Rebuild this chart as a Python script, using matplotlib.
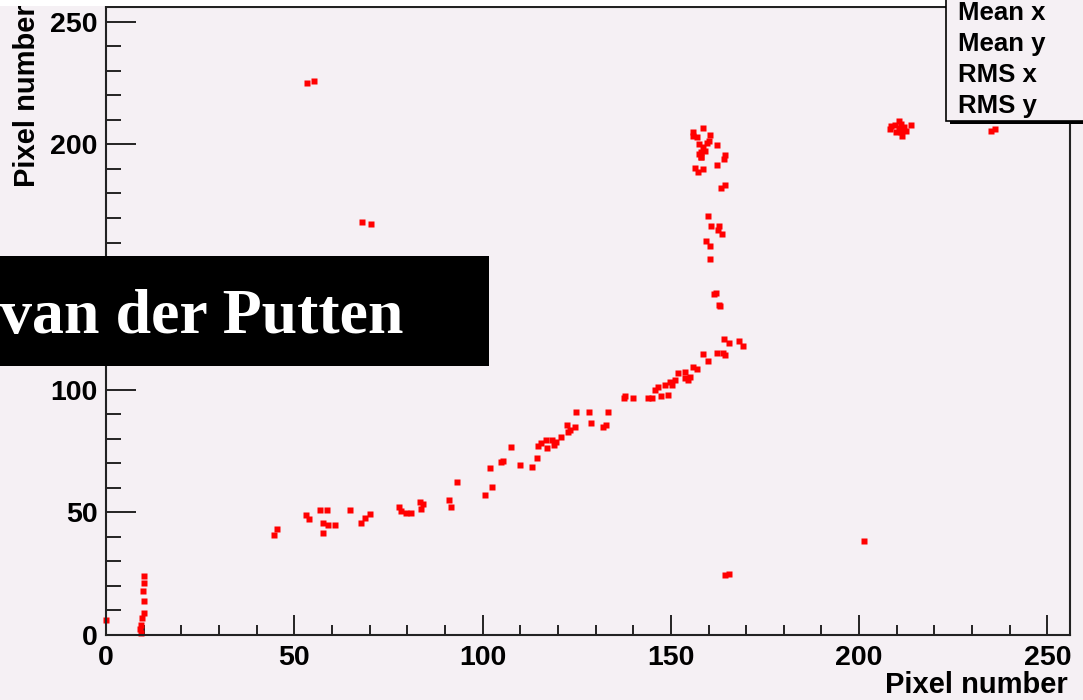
import matplotlib
matplotlib.use("Agg")
import matplotlib.pyplot as plt
from matplotlib.patches import Rectangle

# hit positions (pixel number x, pixel number y)
x_hits = [0,
          10, 10.2, 9.8, 10, 10, 9.6, 9.2, 9, 9.3,
          44.6, 45.5, 53.2, 53.9, 56.9, 58.6, 57.5, 59, 60.8, 57.5, 64.8, 67.6, 68.8, 70.1,
          77.8, 78.4, 79.8, 81, 83.3, 84.2, 83.7, 91, 91.5, 93.3, 100.7, 102.5,
          102.1, 105, 105.5, 107.6, 109.9, 113.1, 114.5, 114.6, 115.6, 117.2, 116.8, 118.5,
          119.6, 120.9, 119, 122.3, 122.7, 124.5, 123.3, 124.7, 128.3, 133.3, 128.7, 132, 132.9,
          137.6, 137.9, 140, 143.9, 145, 145.7, 146.6, 147.5, 148.4, 149.2, 149.7, 151, 150.3,
          151.9, 153.7, 153.7, 155, 155.9, 156.9, 154.5, 158.5, 159.9, 162.2, 163.8, 164.5,
          164.1, 165.4, 168.1, 169.2,
          161.9, 161.4, 163, 162.7,
          159.9, 160.6, 162.7, 162.5, 163.6, 159.4, 160.5, 160.4,
          163.4, 164.5,
          155.9, 155.9, 156.9, 158.5, 160.5, 162.2, 164.5, 164, 157.5, 158.5, 159.5, 158, 159,
          158, 157.5, 160, 158.1, 162.2, 156.3, 157.2, 158.5,
          53.3, 55.2, 68, 70.3,
          208.1, 208.5, 209.4, 210.7, 211.2, 211.2, 211.4, 212.5, 213.8, 209.7, 212, 210.5,
          235, 236,
          164.3, 165.4, 201.4]
y_hits = [6,
          24, 21, 18, 14, 9, 7, 4, 2.5, 1,
          40.6, 43.3, 49, 47.3, 51, 51, 45.8, 45, 44.8, 41.5, 51, 45.5, 47.6, 49.5,
          52.3, 50.5, 49.6, 49.6, 54.3, 53.5, 51.5, 55, 52.3, 62.5, 57.1, 60.5,
          67.9, 70.4, 71, 76.8, 69.3, 68.6, 72, 77, 78.1, 76.1, 79.5, 79.5,
          78.8, 80.8, 77.5, 85.6, 82.9, 84.6, 83.6, 91, 91, 91, 86.3, 84.9, 85.6,
          96.5, 97.6, 96.5, 96.5, 96.5, 99.9, 101.2, 97.4, 101.9, 97.8, 103.3, 104, 102,
          106.7, 107.3, 104.6, 105.3, 109.4, 108.3, 104, 114.6, 111.7, 115.1, 114.8, 114.1,
          120.7, 119.2, 119.9, 117.8,
          139.3, 138.9, 134.1, 134.6,
          171, 166.9, 166.9, 165.1, 163.5, 160.7, 158.7, 153.3,
          182.1, 183.4,
          205.2, 203.4, 203.1, 206.5, 203.8, 199.8, 195.7, 193.9, 200, 199, 200.5, 197, 197.5,
          195, 196, 201.5, 195, 191.6, 190.2, 188.9, 189.9,
          225.2, 226, 168.4, 167.7,
          206.2, 207.3, 208, 209.7, 208.3, 205.2, 203.4, 205.6, 208, 205.2, 207, 206.5,
          205.5, 206.3,
          24.5, 25, 38.4]

stat_names = ["Mean x", "Mean y", "RMS x", "RMS y"]
axis_title = "Pixel number"
banner = "van der Putten"

bg = "#f5f0f4"
W, H = 1083, 700

plt.rcParams['font.family'] = ['Liberation Sans', 'DejaVu Sans']
plt.rcParams['font.weight'] = 'bold'

fig = plt.figure(figsize=(W / 100, H / 100), dpi=100, facecolor=bg)
ax = fig.add_axes([106 / W, 1 - 635 / H, (1070 - 106) / W, (635 - 7) / H])
ax.set_facecolor(bg)

ax.plot(x_hits, y_hits, 's', color='#ff0000', ms=4.0, mec='none', clip_on=False)

ax.set_xlim(0, 256)
ax.set_ylim(0, 256)
ax.set_xticks(range(0, 251, 50))
ax.set_yticks(range(0, 251, 50))
ax.set_xticks(range(0, 256, 10), minor=True)
ax.set_yticks(range(0, 256, 10), minor=True)
ax.tick_params(axis='x', which='major', direction='in', length=14.5, width=1.2, pad=7, labelsize=20.5)
ax.tick_params(axis='x', which='minor', direction='in', length=7.2, width=1.2)
ax.tick_params(axis='y', which='major', direction='in', length=21.5, width=1.2, pad=6, labelsize=20.5)
ax.tick_params(axis='y', which='minor', direction='in', length=10.8, width=1.2)
for lab in ax.get_xticklabels() + ax.get_yticklabels():
    lab.set_fontweight('bold')
for s in ax.spines.values():
    s.set_linewidth(1.5)
    s.set_color('#222222')

fig.text(1068 / W, 1 - 693 / H, axis_title, ha='right', va='baseline', fontsize=21, fontweight='bold')
fig.text(13 / W, 1 - 4 / H, axis_title, rotation=90, ha='right', va='top', fontsize=21,
         fontweight='bold', rotation_mode='anchor')

# white strip along the top edge
fig.patches.append(Rectangle((0, 1 - 6 / H), 980 / W, 6 / H, transform=fig.transFigure,
                             facecolor='white', edgecolor='none', zorder=5))

# stats box with shadow
fig.patches.append(Rectangle((950 / W, 1 - 124 / H), 140 / W, 130 / H, transform=fig.transFigure,
                             facecolor='black', edgecolor='none', zorder=6))
fig.patches.append(Rectangle((946 / W, 1 - 121 / H), 140 / W, 130 / H, transform=fig.transFigure,
                             facecolor=bg, edgecolor='black', lw=1.2, zorder=7))
for i, name in enumerate(stat_names):
    fig.text(958 / W, 1 - (20 + 31 * i) / H, name, ha='left', va='baseline', fontsize=18.5,
             fontweight='bold', zorder=8)

# name banner
fig.patches.append(Rectangle((0, 1 - 366 / H), 489 / W, 110 / H, transform=fig.transFigure,
                             facecolor='black', edgecolor='none', zorder=9))
fig.text(0, 1 - 333 / H, banner, ha='left', va='baseline', color='white', fontsize=46,
         fontweight='bold', family=['Liberation Serif', 'DejaVu Serif'], zorder=10)

fig.savefig("out.png", dpi=100, facecolor=bg)
